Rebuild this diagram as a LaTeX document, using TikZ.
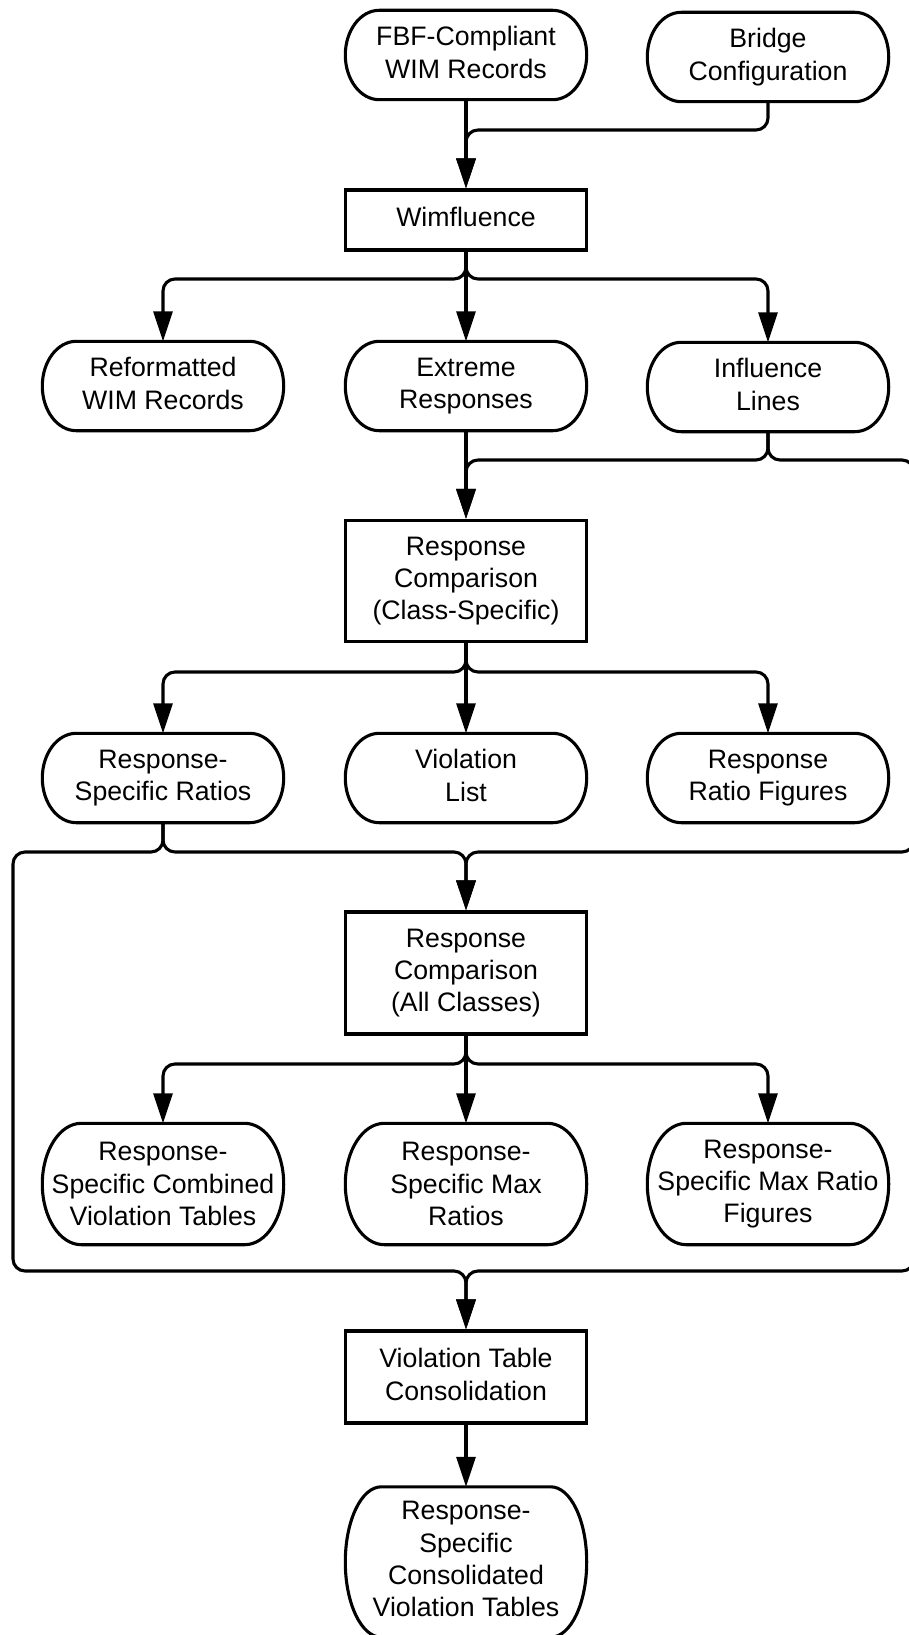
\documentclass[tikz,border=0pt]{standalone}
\usepackage{fontspec}
\setmainfont{Liberation Sans}
\usetikzlibrary{arrows.meta,calc}
\newcommand\lab{\fontsize{26.7}{32.3}\selectfont}
\newcommand\ovaloutline[2][34pt]{%
 \draw[shapeline] let \p1=(#2.north), \p2=(#2.south), \n1={(\y1-\y2)/2} in
  ([xshift=#1]#2.north west) -- ([xshift=-#1]#2.north east)
  arc[start angle=90,end angle=-90,x radius=#1,y radius=\n1]
  -- ([xshift=#1]#2.south west)
  arc[start angle=270,end angle=90,x radius=#1,y radius=\n1] -- cycle;}
\begin{document}
\begin{tikzpicture}[
  every node/.style={font=\lab, align=center, inner sep=0pt, minimum width=241pt, text depth=5.6pt},
  oval/.style={minimum height=#1},
  box/.style={draw, line width=3.1pt, minimum height=#1},
  conn/.style={line width=3.1pt, rounded corners=12pt},
  arr/.style={conn, -{Triangle[length=30pt,width=19pt]}},
  shapeline/.style={line width=3.1pt, line join=round}
]
\useasboundingbox (0,0) rectangle (909pt,-1635pt);
\fill[white] (0,0) rectangle (909pt,-1635pt);
\clip (0,0) rectangle (909pt,-1635pt);
\begin{scope}[x=1pt,y=1pt]
% nodes
\node[oval=89pt] (fbf) at (466,-55) {FBF-Compliant\\WIM Records};
\node[oval=89pt] (bridge) at (768,-57) {Bridge\\Configuration};
\node[box=60pt] (wim) at (466,-220) {Wimfluence};
\node[oval=89pt] (refm) at (163,-386) {Reformatted\\WIM Records};
\node[oval=89pt] (extr) at (466,-386) {Extreme\\Responses};
\node[oval=89pt] (infl) at (768,-387) {Influence\\Lines};
\node[box=121pt] (rc1) at (466,-581) {Response\\Comparison\\(Class-Specific)};
\node[oval=89pt] (rsr) at (163,-778) {Response-\\Specific Ratios};
\node[oval=89pt] (vl) at (466,-778) {Violation\\List};
\node[oval=89pt] (rrf) at (768,-778) {Response\\Ratio Figures};
\node[box=122pt] (rc2) at (466,-973) {Response\\Comparison\\(All Classes)};
\node[oval=121pt, text depth=0pt] (rsc) at (163,-1184) {Response-\\Specific Combined\\Violation Tables};
\node[oval=121pt, text depth=0pt] (rsm) at (466,-1184) {Response-\\Specific Max\\Ratios};
\node[oval=121pt] (rsmf) at (768,-1184) {Response-\\Specific Max Ratio\\Figures};
\node[box=92pt] (vtc) at (466,-1377) {Violation Table\\Consolidation};
\node[oval=150pt] (final) at (466,-1562) {Response-\\Specific\\Consolidated\\Violation Tables};
% oval outlines
\foreach \nm in {fbf,bridge,refm,extr,infl,rsr,vl,rrf}{\ovaloutline{\nm}}
\foreach \nm in {rsc,rsm,rsmf}{\ovaloutline[39pt]{\nm}}
\ovaloutline[36pt]{final}
% junction coordinates
\coordinate (j1) at (466,-130);
\coordinate (j2) at (466,-279);
\coordinate (j3) at (768,-460);
\coordinate (rbA) at (914,-460);
\coordinate (rbB) at (914,-852);
\coordinate (rbC) at (914,-1271);
\coordinate (j4) at (466,-672);
\coordinate (j5) at (163,-852);
\coordinate (lbA) at (13,-852);
\coordinate (lbB) at (13,-1271);
\coordinate (j6) at (466,-1064);
% connectors
\draw[arr] (fbf.south) -- (wim.north);
\draw[arr] (bridge.south) |- (j1) -- (wim.north);
\draw[arr] (wim.south) -- (j2) -| (refm.north);
\draw[arr] (wim.south) -- (extr.north);
\draw[arr] (wim.south) -- (j2) -| (infl.north);
\draw[arr] (extr.south) -- (rc1.north);
\draw[arr] (infl.south) -- (j3) -| (rc1.north);
\draw[arr] (infl.south) -- (j3) -- (rbA) -- (rbB) -| (rc2.north);
\draw[arr] (rbB) -- (rbC) -| (vtc.north);
\draw[arr] (rc1.south) -- (j4) -| (rsr.north);
\draw[arr] (rc1.south) -- (vl.north);
\draw[arr] (rc1.south) -- (j4) -| (rrf.north);
\draw[arr] (rsr.south) -- (j5) -| (rc2.north);
\draw[arr] (rsr.south) -- (j5) -- (lbA) -- (lbB) -| (vtc.north);
\draw[arr] (rc2.south) -- (j6) -| (rsc.north);
\draw[arr] (rc2.south) -- (rsm.north);
\draw[arr] (rc2.south) -- (j6) -| (rsmf.north);
\draw[arr] (vtc.south) -- (final.north);
\end{scope}
\end{tikzpicture}
\end{document}
